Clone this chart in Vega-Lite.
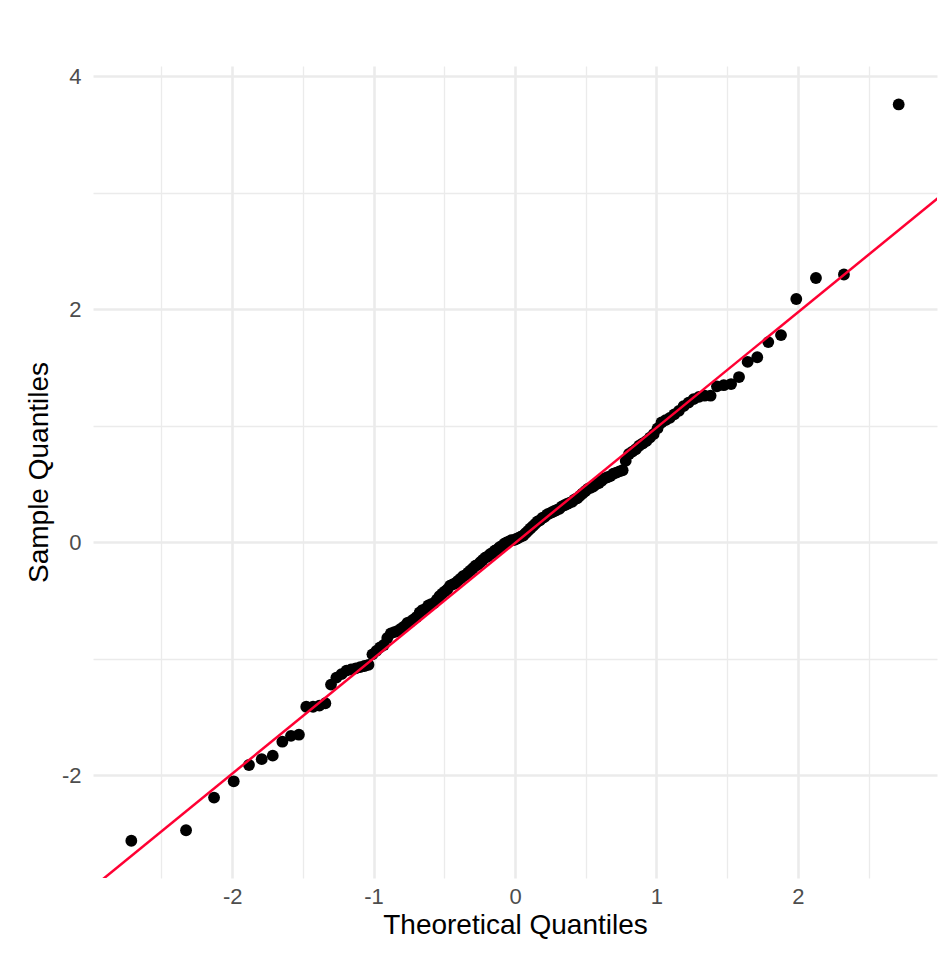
{
  "$schema": "https://vega.github.io/schema/vega-lite/v6.json",
  "autosize": {"type": "none"},
  "width": 844,
  "height": 812,
  "padding": {"left": 93, "top": 66, "right": 5, "bottom": 77},
  "background": "white",
  "config": {
    "view": {"stroke": null},
    "font": "Liberation Sans",
    "style": {
      "guide-label": {"fontSize": 22, "fill": "#4D4D4D", "font": "Liberation Sans"},
      "guide-title": {"fontSize": 28, "fill": "#000000", "font": "Liberation Sans", "fontWeight": "normal"}
    },
    "axis": {
      "domain": false,
      "ticks": false,
      "gridColor": "#EBEBEB",
      "labelFontSize": 22,
      "labelColor": "#4D4D4D",
      "titleFontSize": 28,
      "titleColor": "#000000",
      "titleFontWeight": "normal",
      "labelFont": "Liberation Sans",
      "titleFont": "Liberation Sans"
    }
  },
  "datasets": {
    "pts": [
      {"x": -2.713, "y": -2.56}, {"x": -2.326, "y": -2.47}, {"x": -2.128, "y": -2.19}, {"x": -1.989, "y": -2.05},
      {"x": -1.881, "y": -1.91}, {"x": -1.791, "y": -1.86}, {"x": -1.713, "y": -1.83}, {"x": -1.645, "y": -1.71},
      {"x": -1.584, "y": -1.66}, {"x": -1.528, "y": -1.65}, {"x": -1.476, "y": -1.41}, {"x": -1.428, "y": -1.41},
      {"x": -1.383, "y": -1.40}, {"x": -1.341, "y": -1.38}, {"x": -1.301, "y": -1.22}, {"x": -1.263, "y": -1.16},
      {"x": -1.227, "y": -1.13}, {"x": -1.192, "y": -1.10}, {"x": -1.159, "y": -1.09}, {"x": -1.126, "y": -1.08},
      {"x": -1.095, "y": -1.07}, {"x": -1.065, "y": -1.06}, {"x": -1.036, "y": -1.05}, {"x": -1.008, "y": -0.96},
      {"x": -0.980, "y": -0.93}, {"x": -0.954, "y": -0.90}, {"x": -0.928, "y": -0.88}, {"x": -0.903, "y": -0.82},
      {"x": -0.878, "y": -0.78}, {"x": -0.854, "y": -0.77}, {"x": -0.830, "y": -0.76}, {"x": -0.806, "y": -0.74},
      {"x": -0.783, "y": -0.72}, {"x": -0.761, "y": -0.69}, {"x": -0.739, "y": -0.68}, {"x": -0.717, "y": -0.66},
      {"x": -0.696, "y": -0.64}, {"x": -0.674, "y": -0.60}, {"x": -0.654, "y": -0.58}, {"x": -0.633, "y": -0.57},
      {"x": -0.613, "y": -0.54}, {"x": -0.593, "y": -0.53}, {"x": -0.573, "y": -0.52}, {"x": -0.553, "y": -0.49},
      {"x": -0.534, "y": -0.46}, {"x": -0.515, "y": -0.44}, {"x": -0.496, "y": -0.42}, {"x": -0.477, "y": -0.40},
      {"x": -0.459, "y": -0.37}, {"x": -0.440, "y": -0.36}, {"x": -0.422, "y": -0.35}, {"x": -0.404, "y": -0.33},
      {"x": -0.385, "y": -0.31}, {"x": -0.367, "y": -0.29}, {"x": -0.350, "y": -0.28}, {"x": -0.332, "y": -0.26},
      {"x": -0.314, "y": -0.24}, {"x": -0.297, "y": -0.22}, {"x": -0.279, "y": -0.20}, {"x": -0.262, "y": -0.19},
      {"x": -0.245, "y": -0.17}, {"x": -0.228, "y": -0.15}, {"x": -0.210, "y": -0.13}, {"x": -0.193, "y": -0.12},
      {"x": -0.176, "y": -0.10}, {"x": -0.160, "y": -0.09}, {"x": -0.143, "y": -0.07}, {"x": -0.126, "y": -0.06},
      {"x": -0.109, "y": -0.04}, {"x": -0.092, "y": -0.03}, {"x": -0.075, "y": -0.01}, {"x": -0.059, "y": 0.00},
      {"x": -0.042, "y": 0.01}, {"x": -0.025, "y": 0.02}, {"x": -0.008, "y": 0.02},
      {"x": 0.008, "y": 0.03}, {"x": 0.025, "y": 0.04}, {"x": 0.042, "y": 0.05}, {"x": 0.059, "y": 0.06},
      {"x": 0.075, "y": 0.08}, {"x": 0.092, "y": 0.10}, {"x": 0.109, "y": 0.12}, {"x": 0.126, "y": 0.14},
      {"x": 0.143, "y": 0.16}, {"x": 0.160, "y": 0.18}, {"x": 0.176, "y": 0.19}, {"x": 0.193, "y": 0.21},
      {"x": 0.210, "y": 0.22}, {"x": 0.228, "y": 0.24}, {"x": 0.245, "y": 0.25}, {"x": 0.262, "y": 0.26},
      {"x": 0.279, "y": 0.27}, {"x": 0.297, "y": 0.28}, {"x": 0.314, "y": 0.29}, {"x": 0.332, "y": 0.31},
      {"x": 0.350, "y": 0.32}, {"x": 0.367, "y": 0.33}, {"x": 0.385, "y": 0.34}, {"x": 0.404, "y": 0.35},
      {"x": 0.422, "y": 0.37}, {"x": 0.440, "y": 0.38}, {"x": 0.459, "y": 0.40}, {"x": 0.477, "y": 0.42},
      {"x": 0.496, "y": 0.44}, {"x": 0.515, "y": 0.46}, {"x": 0.534, "y": 0.47}, {"x": 0.553, "y": 0.48},
      {"x": 0.573, "y": 0.50}, {"x": 0.593, "y": 0.51}, {"x": 0.613, "y": 0.53}, {"x": 0.633, "y": 0.55},
      {"x": 0.654, "y": 0.56}, {"x": 0.674, "y": 0.57}, {"x": 0.696, "y": 0.59}, {"x": 0.717, "y": 0.60},
      {"x": 0.739, "y": 0.61}, {"x": 0.761, "y": 0.62}, {"x": 0.783, "y": 0.70}, {"x": 0.806, "y": 0.76},
      {"x": 0.830, "y": 0.78}, {"x": 0.854, "y": 0.80}, {"x": 0.878, "y": 0.83}, {"x": 0.903, "y": 0.85},
      {"x": 0.928, "y": 0.87}, {"x": 0.954, "y": 0.90}, {"x": 0.980, "y": 0.93}, {"x": 1.008, "y": 0.98},
      {"x": 1.036, "y": 1.03}, {"x": 1.065, "y": 1.05}, {"x": 1.095, "y": 1.07}, {"x": 1.126, "y": 1.10},
      {"x": 1.159, "y": 1.13}, {"x": 1.192, "y": 1.17}, {"x": 1.227, "y": 1.20}, {"x": 1.263, "y": 1.23},
      {"x": 1.301, "y": 1.25}, {"x": 1.341, "y": 1.26}, {"x": 1.383, "y": 1.26}, {"x": 1.428, "y": 1.34},
      {"x": 1.476, "y": 1.35}, {"x": 1.528, "y": 1.36}, {"x": 1.584, "y": 1.42}, {"x": 1.645, "y": 1.55},
      {"x": 1.713, "y": 1.59}, {"x": 1.791, "y": 1.72}, {"x": 1.881, "y": 1.78}, {"x": 1.989, "y": 2.09},
      {"x": 2.128, "y": 2.27}, {"x": 2.326, "y": 2.30}, {"x": 2.713, "y": 3.76}
    ],
    "line": [
      {"x": -3.2, "y": -3.173},
      {"x": 3.2, "y": 3.163}
    ]
  },
  "layer": [
    {
      "data": {"name": "pts"},
      "mark": {"type": "point", "filled": true, "color": "#000000", "opacity": 1, "size": 140},
      "encoding": {
        "x": {
          "field": "x", "type": "quantitative",
          "scale": {"domain": [-2.984, 2.984], "nice": false, "zero": false},
          "axis": {
            "title": "Theoretical Quantiles",
            "values": [-2.5, -2, -1.5, -1, -0.5, 0, 0.5, 1, 1.5, 2, 2.5],
            "labelExpr": "datum.value % 1 === 0 ? '' + datum.value : ''",
            "gridWidth": {"condition": {"test": "datum.value % 1 !== 0", "value": 1.3}, "value": 2.6},
            "labelFontSize": 22,
            "titleFontSize": 28,
            "labelPadding": 8,
            "titlePadding": 4,
            "encode": {"labels": {"update": {"fontSize": {"value": 22}}}}
          }
        },
        "y": {
          "field": "y", "type": "quantitative",
          "scale": {"domain": [-2.88, 4.09], "nice": false, "zero": false},
          "axis": {
            "title": "Sample Quantiles",
            "values": [-2, -1, 0, 1, 2, 3, 4],
            "labelExpr": "datum.value % 2 === 0 ? '' + datum.value : ''",
            "gridWidth": {"condition": {"test": "datum.value % 2 !== 0", "value": 1.3}, "value": 2.6},
            "labelFontSize": 22,
            "titleFontSize": 28,
            "labelPadding": 12,
            "titlePadding": 8,
            "encode": {"labels": {"update": {"fontSize": {"value": 22}}}}
          }
        }
      }
    },
    {
      "data": {"name": "line"},
      "mark": {"type": "line", "color": "#FF0033", "strokeWidth": 2.5, "clip": true},
      "encoding": {
        "x": {"field": "x", "type": "quantitative"},
        "y": {"field": "y", "type": "quantitative"}
      }
    }
  ]
}
